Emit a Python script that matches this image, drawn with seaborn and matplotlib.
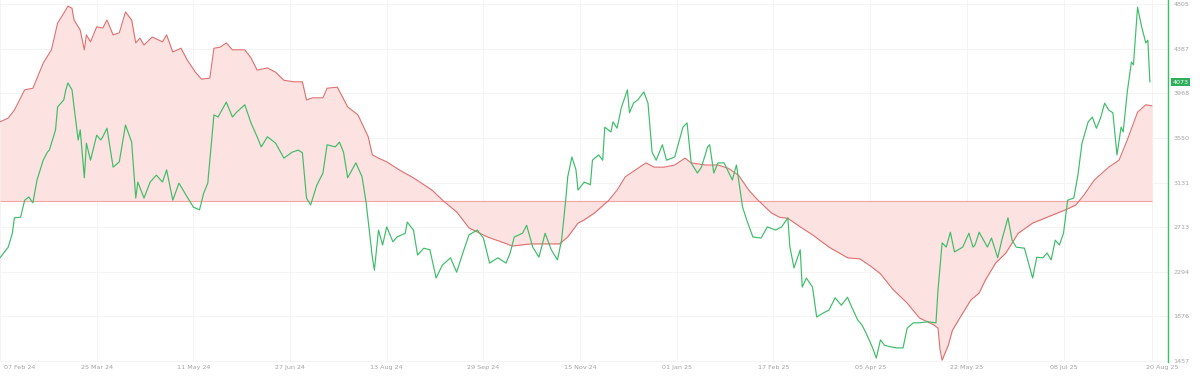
import numpy as np
import pandas as pd
import matplotlib
matplotlib.use("Agg")
import matplotlib.pyplot as plt
import matplotlib.transforms as mtransforms
import seaborn as sns

# ---------------- data ----------------
start_date = "2024-02-07"

price_days = [0, 4, 6, 7, 10, 12, 14, 16, 18, 21, 23, 24, 27, 28, 31, 32, 33, 35, 36, 38,
              39, 41, 42, 44, 47, 49, 50, 52, 55, 58, 61, 64, 66, 67, 70, 73, 76, 79, 81, 84,
              87, 91, 94, 97, 99, 101, 104, 106, 110, 113, 115, 119, 122, 125, 127, 130, 134, 138, 142, 145,
              147, 149, 151, 154, 157, 159, 163, 165, 167, 169, 173, 176, 178, 181, 182, 184, 186, 188, 191, 193,
              197, 198, 201, 203, 206, 209, 212, 215, 219, 222, 225, 228, 232, 235, 238, 242, 246, 248, 250, 254,
              256, 259, 262, 265, 268, 271, 273, 275, 276, 278, 280, 281, 284, 287, 288, 291, 293, 294, 297, 298,
              300, 302, 305, 306, 308, 310, 313, 315, 317, 319, 322, 324, 328, 332, 334, 336, 339, 341, 344, 345,
              347, 349, 352, 356, 358, 361, 363, 366, 370, 373, 377, 380, 383, 384, 386, 389, 390, 392, 395, 397,
              400, 403, 406, 409, 412, 414, 417, 419, 421, 424, 426, 428, 430, 433, 436, 439, 441, 444, 447, 451,
              455, 456, 458, 460, 462, 464, 468, 471, 473, 474, 476, 480, 482, 485, 487, 490, 492, 494, 498, 502,
              504, 507, 509, 511, 513, 515, 517, 519, 522, 524, 526, 529, 531, 533, 535, 537, 539, 541, 543, 545,
              546, 548, 550, 551, 553, 555, 557, 558, 559]
price_values = [2425, 2525, 2655, 2800, 2805, 2965, 2995, 2940, 3155, 3340, 3415, 3435, 3625, 3840, 3905, 4000, 4065, 4000, 3840, 3530,
                3625, 3175, 3500, 3340, 3575, 3530, 3560, 3640, 3275, 3325, 3670, 3510, 2985, 3135, 2985, 3135, 3200, 3135, 3250, 2965,
                3125, 2995, 2900, 2875, 3030, 3125, 3765, 3745, 3885, 3745, 3790, 3860, 3690, 3560, 3465, 3560, 3500, 3360, 3415, 3435,
                3410, 2985, 2920, 3105, 3220, 3485, 3465, 3510, 3415, 3175, 3315, 3185, 2940, 2430, 2310, 2685, 2545, 2715, 2575, 2620,
                2655, 2760, 2685, 2450, 2515, 2500, 2235, 2355, 2425, 2290, 2470, 2640, 2685, 2610, 2375, 2425, 2375, 2470, 2620, 2655,
                2730, 2525, 2430, 2655, 2500, 2405, 2590, 2965, 3185, 3370, 3250, 3060, 3135, 3110, 3340, 3390, 3340, 3650, 3605, 3700,
                3640, 3830, 4000, 3785, 3875, 3905, 3980, 3875, 3415, 3340, 3485, 3340, 3370, 3650, 3690, 3315, 3220, 3275, 3465, 3485,
                3220, 3315, 3315, 3155, 3295, 2900, 2780, 2620, 2610, 2715, 2685, 2715, 2800, 2525, 2330, 2500, 2150, 2235, 2150, 1870,
                1905, 1935, 2050, 1980, 2055, 1965, 1840, 1795, 1720, 1590, 1485, 1655, 1605, 1590, 1580, 1580, 1765, 1815, 1815, 1825,
                1815, 2125, 2565, 2525, 2665, 2480, 2525, 2655, 2525, 2545, 2665, 2525, 2610, 2425, 2590, 2800, 2590, 2525, 2515, 2235,
                2430, 2425, 2470, 2405, 2590, 2545, 2655, 2965, 2985, 3200, 3500, 3700, 3745, 3640, 3735, 3875, 3810, 3785, 3390, 3650,
                3605, 3980, 4260, 4235, 4775, 4590, 4440, 4465, 4073]

indicator_days = [0, 4, 7, 12, 16, 21, 25, 28, 32, 33, 35, 36, 39, 41, 42, 44, 47, 50, 52, 55,
                  58, 61, 64, 66, 68, 70, 74, 79, 81, 84, 88, 91, 95, 98, 102, 104, 107, 110, 113, 119,
                  122, 125, 130, 134, 138, 143, 147, 149, 152, 157, 159, 164, 169, 174, 179, 181, 184, 188, 192, 194,
                  201, 210, 216, 222, 228, 237, 245, 249, 258, 266, 272, 276, 281, 284, 289, 296, 300, 304, 309, 314,
                  318, 323, 328, 333, 336, 343, 349, 354, 359, 364, 368, 375, 379, 383, 389, 395, 403, 412, 418, 423,
                  428, 434, 441, 447, 454, 456, 457, 458, 461, 463, 468, 472, 476, 479, 484, 489, 495, 502, 509, 518,
                  523, 527, 532, 539, 544, 548, 553, 557, 560]
indicator_values = [3700, 3735, 3810, 4000, 4015, 4250, 4375, 4625, 4750, 4785, 4765, 4655, 4560, 4375, 4515, 4450, 4590, 4580, 4655, 4515,
                    4535, 4730, 4655, 4440, 4485, 4420, 4495, 4450, 4515, 4355, 4390, 4280, 4165, 4100, 4110, 4390, 4400, 4440, 4375, 4375,
                    4300, 4185, 4205, 4165, 4090, 4075, 4075, 3905, 3925, 3925, 4015, 4025, 3840, 3765, 3560, 3390, 3360, 3325, 3275, 3250,
                    3175, 3060, 2950, 2855, 2705, 2620, 2565, 2535, 2555, 2555, 2555, 2620, 2750, 2780, 2845, 2965, 3060, 3185, 3250, 3315,
                    3275, 3275, 3295, 3360, 3315, 3295, 3295, 3265, 3200, 3060, 2975, 2845, 2805, 2795, 2715, 2640, 2525, 2425, 2415, 2350,
                    2275, 2130, 2000, 1860, 1795, 1765, 1560, 1465, 1605, 1745, 1905, 2030, 2095, 2215, 2375, 2470, 2655, 2750, 2805, 2875,
                    2920, 3015, 3155, 3275, 3340, 3530, 3790, 3860, 3850]

baseline_value = 2960

y_ticks = [1457, 1876, 2294, 2713, 3131, 3550, 3968, 4387, 4805]
x_tick_dates = ["2024-02-07", "2024-03-25", "2024-05-11", "2024-06-27", "2024-08-13",
                "2024-09-29", "2024-11-15", "2025-01-01", "2025-02-17", "2025-04-05",
                "2025-05-22", "2025-07-08", "2025-08-20"]
last_price_label = "4073"

# ---------------- build frames ----------------
t0 = pd.Timestamp(start_date)
price_df = pd.DataFrame({"date": t0 + pd.to_timedelta(price_days, unit="D"),
                         "price": price_values})
ind_df = pd.DataFrame({"date": t0 + pd.to_timedelta(indicator_days, unit="D"),
                       "value": indicator_values})

GREEN = "#3dbd68"
RED = "#e06e6e"
PINK = "#fde2e2"
BASE = "#f2a3a3"
GREY = "#a3a3a3"

sns.set_style("white")
plt.rcParams["font.family"] = ["DejaVu Sans"]

fig = plt.figure(figsize=(12, 3.85), dpi=100)
ax = fig.add_axes([0.0, (385 - 362) / 385, 1168 / 1200, 362 / 385])

ax.fill_between(ind_df["date"], ind_df["value"], baseline_value,
                color=PINK, linewidth=0, zorder=1)
ax.hlines(baseline_value, ind_df["date"].iloc[0], ind_df["date"].iloc[-1],
          color=BASE, linewidth=0.8, zorder=2)
sns.lineplot(data=ind_df, x="date", y="value", ax=ax, color=RED,
             linewidth=0.8, zorder=3)
sns.lineplot(data=price_df, x="date", y="price", ax=ax, color=GREEN,
             linewidth=0.85, zorder=4)

x_ticks = pd.to_datetime(x_tick_dates)
ax.set_xlim(t0, t0 + pd.Timedelta(days=567.8))
ax.set_ylim(1447.7, 4842.5)

ax.set_xticks(x_ticks)
ax.set_xticklabels([d.strftime("%d %b %y") for d in x_ticks],
                   fontsize=4.6, color=GREY)
ax.yaxis.tick_right()
ax.set_yticks(y_ticks)
ax.set_yticklabels([str(v) for v in y_ticks], fontsize=4.6, color=GREY)
ax.tick_params(axis="both", length=0)
ax.tick_params(axis="x", pad=2)
ax.tick_params(axis="y", pad=4)

xl = ax.get_xticklabels()
xl[0].set_horizontalalignment("left")
xl[0].set_transform(xl[0].get_transform() + mtransforms.ScaledTranslation(4 / 100, 0, fig.dpi_scale_trans))
xl[-1].set_transform(xl[-1].get_transform() + mtransforms.ScaledTranslation(10 / 100, 0, fig.dpi_scale_trans))

ax.grid(True, color="#f3f3f3", linewidth=0.6)
ax.set_axisbelow(True)
for side in ["top", "left", "bottom"]:
    ax.spines[side].set_visible(False)
ax.spines["right"].set_color(GREEN)
ax.spines["right"].set_linewidth(1.0)
ax.set_xlabel("")
ax.set_ylabel("")

trans = mtransforms.blended_transform_factory(ax.transAxes, ax.transData)
ax.text(1.004, price_values[-1], last_price_label, transform=trans,
        fontsize=4.6, color="white", va="center", ha="left",
        bbox=dict(boxstyle="square,pad=0.25", fc="#2fae5a", ec="none"), zorder=6,
        clip_on=False)

fig.savefig("out.png", dpi=100, facecolor="white")
